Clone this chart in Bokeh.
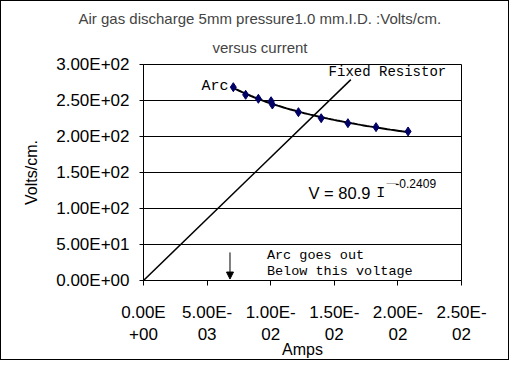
import numpy as np
from bokeh.plotting import figure
from bokeh.models import (Range1d, FixedTicker, Label, Arrow, NormalHead, Title)
from bokeh.embed import file_html
from bokeh.resources import INLINE

# ---- data ----
arc_current = [0.00706, 0.00803, 0.00903, 0.01003, 0.01013, 0.01218, 0.01397, 0.01607, 0.01828, 0.0208]
arc_volts = [268.5, 257.9, 252.4, 249.0, 244.4, 233.8, 225.4, 218.5, 213.0, 207.0]
resistor_current = [0.0, 0.0163]
resistor_volts = [0.0, 279.0]
arrow_x = 0.0068
arrow_from, arrow_to = 39.0, 2.0

x_ticks = [0.0, 0.005, 0.01, 0.015, 0.02, 0.025]
x_tick_labels = ["0.00E\n+00", "5.00E-\n03", "1.00E-\n02", "1.50E-\n02", "2.00E-\n02", "2.50E-\n02"]
y_ticks = [0, 50, 100, 150, 200, 250, 300]
y_tick_labels = ["0.00E+00", "5.00E+01", "1.00E+02", "1.50E+02", "2.00E+02", "2.50E+02", "3.00E+02"]

title_lines = ["Air gas discharge 5mm pressure1.0 mm.I.D. :Volts/cm.", "versus current"]

SANS = "Liberation Sans"
MONO = "Liberation Mono"

p = figure(width=509, height=360, output_backend="svg", toolbar_location=None,
           x_range=Range1d(0, 0.025), y_range=Range1d(0, 300),
           min_border_left=142, min_border_right=49, min_border_top=63, min_border_bottom=80)
p.styles = {"border": "1px solid black"}
p.background_fill_color = "white"
p.border_fill_color = "white"
p.outline_line_color = "black"
p.outline_line_width = 1

# two-line title, centred on the whole chart (outer line first)
p.title.text = title_lines[0]
p.title.align = "left"
p.title.offset = -65
p.title.standoff = 3
p.title.text_font = SANS
p.title.text_font_size = "15px"
p.title.text_font_style = "normal"
p.add_layout(Title(text=title_lines[1], align="left", offset=69, standoff=17,
                   text_font=SANS, text_font_size="15px", text_font_style="normal"), "above")

# axes
p.xaxis.ticker = FixedTicker(ticks=x_ticks)
p.xaxis.major_label_overrides = dict(zip(x_ticks, x_tick_labels))
p.yaxis.ticker = FixedTicker(ticks=y_ticks)
p.yaxis.major_label_overrides = dict(zip(y_ticks, y_tick_labels))
for ax in (p.xaxis[0], p.yaxis[0]):
    ax.axis_line_color = "black"
    ax.major_tick_line_color = "black"
    ax.minor_tick_line_color = None
    ax.major_tick_in = 0
    ax.major_label_text_font = SANS
    ax.major_label_text_font_size = "17px"
    ax.major_label_text_color = "black"
    ax.axis_label_text_font = SANS
    ax.axis_label_text_font_size = "16px"
    ax.axis_label_text_font_style = "normal"
    ax.axis_label_text_color = "black"
p.xaxis.major_tick_out = 5
p.yaxis.major_tick_out = 4
p.xaxis.major_label_standoff = 17
p.yaxis.major_label_standoff = 10
p.xaxis.axis_label = "Amps"
p.yaxis.axis_label = "Volts/cm."
p.xaxis.axis_label_standoff = -6
p.yaxis.axis_label_standoff = 13

p.xgrid.visible = False
p.ygrid.ticker = FixedTicker(ticks=y_ticks)
p.ygrid.grid_line_color = "black"
p.ygrid.grid_line_width = 1

# fixed resistor line
p.line(resistor_current, resistor_volts, line_color="black", line_width=1.5)

# power-law trendline fitted to the arc data
coef = np.polyfit(np.log(arc_current), np.log(arc_volts), 1)
tx = np.linspace(min(arc_current), max(arc_current), 60)
ty = np.exp(coef[1]) * tx ** coef[0]
p.line(tx, ty, line_color="black", line_width=2)

# arc data points
p.scatter(arc_current, arc_volts, marker="diamond", size=9,
          fill_color="#000066", line_color="#000066")

# arrow
p.add_layout(Arrow(end=NormalHead(size=7, fill_color="black", line_color="black"),
                   x_start=arrow_x, y_start=arrow_from, x_end=arrow_x, y_end=arrow_to,
                   line_color="black", line_width=1))

def lab(x, y, text, font, size, align="left", color="black", baseline="middle"):
    p.add_layout(Label(x=x, y=y, text=text, text_font=font, text_font_size=size,
                       text_align=align, text_baseline=baseline, text_color=color))

# annotations
lab(0.00668, 269.4, "Arc", MONO, "15px", align="right")
lab(0.01455, 288.9, "Fixed Resistor", MONO, "14px")
lab(0.00970, 34.7, "Arc goes out", MONO, "13.5px")
lab(0.00970, 12.5, "Below this voltage", MONO, "13.5px")

# fitted equation
lab(0.01297, 122.2, "V = 80.9", SANS, "16.5px")
lab(0.01830, 121.5, "I", MONO, "15px")
lab(0.01910, 137.5, "\u2014", SANS, "11px", color="#999999")
lab(0.01980, 134.7, "-0.2409", SANS, "12px")

open("out.html", "w").write(file_html(p, INLINE))
